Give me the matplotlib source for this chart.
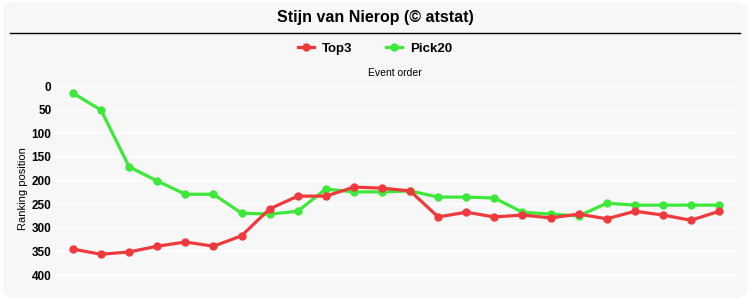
import matplotlib.pyplot as plt
from matplotlib.patches import FancyBboxPatch
from matplotlib.lines import Line2D

# event order (24 events)
events = list(range(1, 25))
top3 = [345, 356, 351, 339, 330, 339, 317, 260, 233, 233, 214, 216,
        222, 277, 267, 277, 273, 279, 271, 281, 265, 273, 284, 265]
pick20 = [15, 51, 171, 201, 229, 229, 269, 271, 265, 218, 224, 224,
          222, 235, 235, 237, 267, 271, 275, 248, 252, 252, 252, 252]
yticks = [0, 50, 100, 150, 200, 250, 300, 350, 400]

red = "#f0393d"
green = "#3de83a"
bg = "#f7f7f7"

plt.rcParams['font.family'] = ['Liberation Sans', 'DejaVu Sans']

fig = plt.figure(figsize=(7.5, 3), dpi=100, facecolor="white")
fig.patches.append(FancyBboxPatch((0.004, 0.007), 0.992, 0.986, boxstyle="round,pad=0,rounding_size=0.02",
                                  transform=fig.transFigure, facecolor=bg, edgecolor="none", zorder=-10))

ax = fig.add_axes([0.0733, 0.05, 0.908, 0.6833])
ax.set_facecolor(bg)
ax.plot(events, top3, color=red, lw=2.3, marker="o", ms=5, label="Top3", zorder=3)
ax.plot(events, pick20, color=green, lw=2.3, marker="o", ms=5, label="Pick20", zorder=2)

ax.set_xlim(0.36, 24.6)
ax.set_ylim(421, -12.7)
ax.set_yticks(yticks)
ax.set_yticklabels([str(v) for v in yticks], fontsize=8.5, fontweight="bold")
ax.set_xticks([])
ax.grid(axis="y", color="white", lw=1.2)
ax.set_axisbelow(True)
ax.tick_params(axis="y", length=0, pad=2.5)
for s in ax.spines.values():
    s.set_visible(False)
ax.set_ylabel("Ranking position", fontsize=8, labelpad=4)
ax.yaxis.set_label_coords(-0.040, 0.47)

fig.text(0.5, 0.943, "Stijn van Nierop (\u00a9 atstat)", ha="center", va="center",
         fontsize=11.5, fontweight="bold")
fig.add_artist(Line2D([0.013, 0.987], [0.89, 0.89], color="black", lw=1, transform=fig.transFigure))
fig.text(0.527, 0.757, "Event order", ha="center", va="center", fontsize=7.5)

handles = [Line2D([], [], color=red, lw=2.3, marker="o", ms=5),
           Line2D([], [], color=green, lw=2.3, marker="o", ms=5)]
fig.legend(handles, ["Top3", "Pick20"], loc="center", bbox_to_anchor=(0.5, 0.838), ncol=2,
           frameon=False, prop={"weight": "bold", "size": 9.5}, handlelength=1.2,
           columnspacing=2.6, handletextpad=0.6)

fig.savefig("out.png", dpi=100, facecolor="white")
